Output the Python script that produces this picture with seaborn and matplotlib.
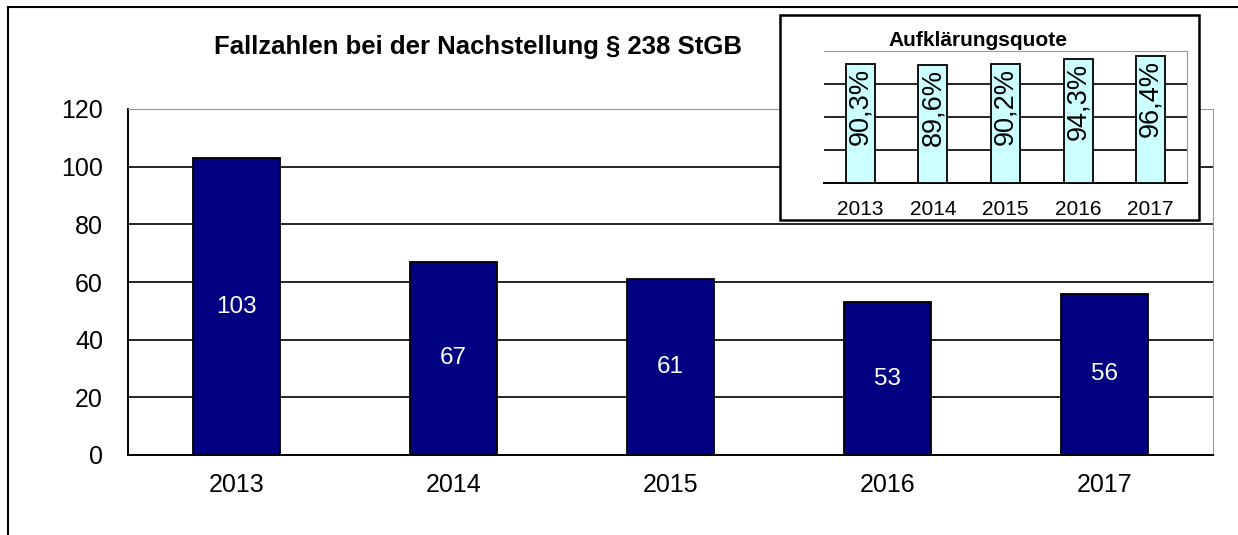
import matplotlib
matplotlib.use('Agg')
import matplotlib.pyplot as plt
from matplotlib.patches import Rectangle
import seaborn as sns
import numpy as np

years = ['2013', '2014', '2015', '2016', '2017']
cases = [103, 67, 61, 53, 56]
quote = [90.3, 89.6, 90.2, 94.3, 96.4]

sns.set_style('white')
plt.rcParams['font.family'] = ['Liberation Sans', 'DejaVu Sans']
plt.rcParams['text.color'] = 'black'
plt.rcParams['xtick.color'] = 'black'
plt.rcParams['ytick.color'] = 'black'
plt.rcParams['axes.labelcolor'] = 'black'

fig = plt.figure(figsize=(12.38, 5.35), dpi=100)

# outer chart frame (runs off the right/bottom edge like the screenshot)
fig.patches.append(Rectangle((8 / 1238, -0.05), 1.2, 1 - 7 / 535 + 0.05,
                             transform=fig.transFigure, fill=False,
                             edgecolor='black', linewidth=1.5, zorder=0))

# main chart
ax = fig.add_axes([128 / 1238, 1 - 455 / 535, (1213 - 128) / 1238, (455 - 109) / 535])
sns.barplot(x=years, y=cases, color='#000080', saturation=1, edgecolor='black',
            linewidth=1.3, width=0.4, ax=ax, zorder=3)
ax.set_ylim(0, 120)
ax.set_xlim(-0.5, 4.5)
ax.set_yticks(range(0, 121, 20))
ax.yaxis.grid(True, color='black', linewidth=1.2)
ax.set_axisbelow(True)
for s in ['top', 'right']:
    ax.spines[s].set_color('#999999')
for s in ['left', 'bottom']:
    ax.spines[s].set_color('black')
    ax.spines[s].set_linewidth(1.4)
ax.tick_params(axis='y', direction='out', length=6, width=1.2, labelsize=18, pad=12)
ax.set_xticks(np.arange(-0.5, 5, 1), minor=True)
ax.tick_params(axis='x', which='major', length=0, labelsize=18, pad=13)
ax.tick_params(axis='x', which='minor', direction='out', length=6, width=1.2)
ax.set_xlabel('')
ax.set_ylabel('')
for i, v in enumerate(cases):
    ax.text(i, v / 2, str(v), ha='center', va='center', color='white', fontsize=17.5, zorder=4)
fig.text(478 / 1238, 1 - 47 / 535, 'Fallzahlen bei der Nachstellung § 238 StGB',
         ha='center', va='center', fontsize=18.5, fontweight='bold')

# inset frame
fig.patches.append(Rectangle((780 / 1238, 1 - 220 / 535), (1199 - 780) / 1238, (220 - 15) / 535,
                             transform=fig.transFigure, facecolor='white',
                             edgecolor='black', linewidth=1.8, zorder=1))

# inset chart: Aufklärungsquote
ax2 = fig.add_axes([824 / 1238, 1 - 183 / 535, (1187 - 824) / 1238, (183 - 51) / 535], zorder=2)
ax2.patch.set_alpha(0)
sns.barplot(x=years, y=quote, color='#CCFFFF', saturation=1, edgecolor='black',
            linewidth=1.3, width=0.4, ax=ax2, zorder=3)
ax2.set_ylim(0, 100)
ax2.set_xlim(-0.5, 4.5)
ax2.set_yticks([0, 25, 50, 75, 100])
ax2.yaxis.grid(True, color='black', linewidth=1.2)
ax2.set_axisbelow(True)
ax2.tick_params(axis='y', length=0, labelleft=False)
ax2.spines['left'].set_visible(False)
for s in ['top', 'right']:
    ax2.spines[s].set_color('#999999')
ax2.spines['bottom'].set_color('black')
ax2.spines['bottom'].set_linewidth(1.4)
ax2.set_xticks(np.arange(-0.5, 5, 1), minor=True)
ax2.tick_params(axis='x', which='major', length=0, labelsize=15, pad=12)
ax2.tick_params(axis='x', which='minor', direction='out', length=6, width=1.2)
ax2.set_xlabel('')
ax2.set_ylabel('')
for i, v in enumerate(quote):
    ax2.text(i, v - 3, f'{v:.1f}%'.replace('.', ','), ha='center', va='top',
             rotation=90, color='black', fontsize=19.5, zorder=4)
fig.text(978 / 1238, 1 - 40 / 535, 'Aufklärungsquote', ha='center', va='center',
         fontsize=15, fontweight='bold', zorder=3)

fig.savefig('out.png', dpi=100)
